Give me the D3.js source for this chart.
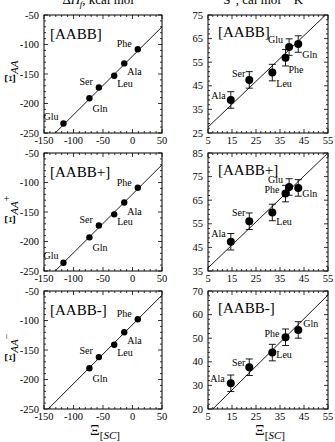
<!DOCTYPE html>
<html>
<head>
<meta charset="utf-8">
<script src="https://cdn.jsdelivr.net/npm/d3@7"></script>
<style>
  body { margin: 0; background: #fff; }
  svg { display: block; font-family: "Liberation Serif", "DejaVu Serif", serif; }
</style>
</head>
<body>
<div id="chart"></div>
<script>
// Enthalpy panels (left column): x = Xi[SC], y = Xi_AA for each basis
const hNames = ["Glu", "Gln", "Ser", "Leu", "Ala", "Phe"];
const hX = [-117, -73, -57, -31, -14, 9];
const hAABB  = [-234, -191, -173, -153, -132, -108];
const hAABBp = [-236, -193, -173, -154, -134, -109];
const hAABBm = [null, -181, -162, -141, -120, -98];
const hFit = [[-131, -250], [50, -70]];
const hFitM = [[-143, -250], [50, -57]];

// Entropy panels (right column), with error bars
const sNames = ["Ala", "Ser", "Leu", "Phe", "Glu", "Gln"];
const sX = [14.5, 22.2, 31.8, 37.3, 38.8, 42.6];
const sAABB  = [39, 47.5, 50.6, 56.9, 61.4, 62.7];
const sAABBp = [47.4, 56.1, 59.8, 67.8, 70.6, 70.2];
const sAABBm = [30.9, 37.7, 43.9, 50.4, null, 53.5];
const sErr = [3.5, 3.5, 3.5, 3.5, 3.5, 3.5];
const sFit  = [[5, 27.5], [54, 75]];
const sFitP = [[5, 36.3], [55, 85]];
const sFitM = [[7, 20], [55, 68.3]];

const tags = ["[AABB]", "[AABB+]", "[AABB-]"];
const ySup = ["", "+", "\u2212"];

// label placement (anchor, dx, dy) relative to the point
const hLab = {
  Phe: ["end", -6, -2], Ala: ["start", 3, 12], Leu: ["start", 3, 11],
  Ser: ["end", -6, -3], Gln: ["start", 3, 14], Glu: ["end", -5, -4]
};
const sLab = [
  { Ala: ["end", -5, -1], Ser: ["end", -4, -3], Leu: ["start", 4, 14],
    Phe: ["start", 3, 15], Glu: ["end", -6, -4], Gln: ["start", 4, 14] },
  { Ala: ["end", -5, -5], Ser: ["end", -4, -5], Leu: ["start", 4, 13],
    Phe: ["end", -6, -1], Glu: ["end", -6, -4], Gln: ["start", 4, 9] },
  { Ala: ["end", -6, -1], Ser: ["end", -4, -1], Leu: ["start", 4, 5],
    Phe: ["end", -6, 0], Gln: ["start", 5, -3] }
];

const W = 335, H = 442;
const svg = d3.select("#chart").append("svg").attr("width", W).attr("height", H);

const rowTop = [15, 153, 291];
const plotH = 118;
const cols = [
  { left: 44, width: 118, xDom: [-150, 50], xMaj: 50, xMin: 10, yMaj: 50, yMin: 10,
    yDoms: [[-250, -50], [-250, -50], [-250, -50]],
    names: hNames, xs: hX, ys: [hAABB, hAABBp, hAABBm], fits: [hFit, hFit, hFitM],
    r: 3.2, err: null },
  { left: 208, width: 120, xDom: [5, 55], xMaj: 10, xMin: 2, yMaj: 10, yMin: 2,
    yDoms: [[25, 75], [35, 85], [20, 70]],
    names: sNames, xs: sX, ys: [sAABB, sAABBp, sAABBm], fits: [sFit, sFitP, sFitM],
    r: 4, err: sErr }
];

function range(a, b, step) {
  const out = [];
  for (let v = a; v <= b + 1e-9; v += step) out.push(+v.toFixed(6));
  return out;
}

cols.forEach((c, ci) => {
  rowTop.forEach((top, ri) => {
    const g = svg.append("g").attr("transform", `translate(${c.left},${top})`);
    const x = d3.scaleLinear().domain(c.xDom).range([0, c.width]);
    const y = d3.scaleLinear().domain(c.yDoms[ri]).range([plotH, 0]);

    // ticks on all four sides, pointing inward
    const minorX = range(c.xDom[0], c.xDom[1], c.xMin);
    const minorY = range(c.yDoms[ri][0], c.yDoms[ri][1], c.yMin);
    const isMaj = (v, step, start) => Math.abs(((v - start) / step) - Math.round((v - start) / step)) < 1e-6;
    const tk = g.append("g").attr("stroke", "#000").attr("stroke-width", 0.8);
    minorX.forEach(v => {
      const L = isMaj(v, c.xMaj, c.xDom[0]) ? 4 : 2;
      tk.append("line").attr("x1", x(v)).attr("x2", x(v)).attr("y1", plotH).attr("y2", plotH - L);
      tk.append("line").attr("x1", x(v)).attr("x2", x(v)).attr("y1", 0).attr("y2", L);
    });
    minorY.forEach(v => {
      const L = isMaj(v, c.yMaj, c.yDoms[ri][0]) ? 4 : 2;
      tk.append("line").attr("x1", 0).attr("x2", L).attr("y1", y(v)).attr("y2", y(v));
      tk.append("line").attr("x1", c.width).attr("x2", c.width - L).attr("y1", y(v)).attr("y2", y(v));
    });

    g.append("rect").attr("width", c.width).attr("height", plotH)
      .attr("fill", "none").attr("stroke", "#000").attr("stroke-width", 1);

    // tick labels
    range(c.xDom[0], c.xDom[1], c.xMaj).forEach(v => {
      g.append("text").attr("x", x(v)).attr("y", plotH + 11)
        .attr("text-anchor", "middle").attr("font-size", 10.5).text(v);
    });
    range(c.yDoms[ri][0], c.yDoms[ri][1], c.yMaj).forEach(v => {
      g.append("text").attr("x", -5).attr("y", y(v) + 3.5)
        .attr("text-anchor", "end").attr("font-size", 10.5).text(v);
    });

    // fit line, clipped to the frame
    const clipId = `clip${ci}${ri}`;
    g.append("clipPath").attr("id", clipId).append("rect").attr("width", c.width).attr("height", plotH);
    g.append("line").attr("clip-path", `url(#${clipId})`)
      .attr("x1", x(c.fits[ri][0][0])).attr("y1", y(c.fits[ri][0][1]))
      .attr("x2", x(c.fits[ri][1][0])).attr("y2", y(c.fits[ri][1][1]))
      .attr("stroke", "#000").attr("stroke-width", 0.9);

    // points
    const pts = c.names.map((n, i) => ({ name: n, x: c.xs[i], y: c.ys[ri][i], e: c.err ? c.err[i] : 0 }))
      .filter(d => d.y != null);

    if (c.err) {
      const eb = g.append("g").attr("stroke", "#000").attr("stroke-width", 0.9);
      pts.forEach(d => {
        const px = x(d.x);
        eb.append("line").attr("x1", px).attr("x2", px).attr("y1", y(d.y - d.e)).attr("y2", y(d.y + d.e));
        [d.y - d.e, d.y + d.e].forEach(v => {
          eb.append("line").attr("x1", px - 3.5).attr("x2", px + 3.5).attr("y1", y(v)).attr("y2", y(v));
        });
      });
    }

    g.selectAll("circle.pt").data(pts).enter().append("circle").attr("class", "pt")
      .attr("cx", d => x(d.x)).attr("cy", d => y(d.y)).attr("r", c.r).attr("fill", "#000");

    const lab = ci === 0 ? hLab : sLab[ri];
    g.selectAll("text.lab").data(pts).enter().append("text").attr("class", "lab")
      .attr("x", d => x(d.x) + lab[d.name][1]).attr("y", d => y(d.y) + lab[d.name][2])
      .attr("text-anchor", d => lab[d.name][0]).attr("font-size", 10).text(d => d.name);

    // basis tag
    g.append("text").attr("x", ci === 0 ? 6 : 10).attr("y", ci === 0 ? 24 : 22)
      .attr("font-size", 15).text(tags[ri]);

    // y-axis label (left column only)
    if (ci === 0) {
      const t = svg.append("text")
        .attr("transform", `translate(15,${top + plotH / 2 - 2}) rotate(-90)`)
        .attr("text-anchor", "middle").attr("font-size", 15);
      t.append("tspan").text("\u039E");
      t.append("tspan").attr("font-style", "italic").attr("font-size", 11).attr("dy", 3).text("AA");
      if (ySup[ri]) t.append("tspan").attr("font-size", 10).attr("dy", -8).text(ySup[ri]);
    }
  });

  // column titles and x labels
  const cx = c.left + c.width / 2;
  const title = svg.append("text").attr("x", cx).attr("y", 4).attr("text-anchor", "middle").attr("font-size", 13);
  if (ci === 0) {
    title.append("tspan").text("\u0394");
    title.append("tspan").attr("font-style", "italic").text("H");
    title.append("tspan").attr("font-size", 9).attr("dy", -5).text("\u00B0");
    title.append("tspan").attr("font-size", 9).attr("font-style", "italic").attr("dx", -4).attr("dy", 8).text("f");
    title.append("tspan").attr("dy", -3).text(", kcal mol");
    title.append("tspan").attr("font-size", 9).attr("dy", -5).text("\u22121");
  } else {
    title.append("tspan").text("S\u00B0, cal mol");
    title.append("tspan").attr("font-size", 9).attr("dy", -5).text("\u22121");
    title.append("tspan").attr("dy", 5).text(" K");
    title.append("tspan").attr("font-size", 9).attr("dy", -5).text("\u22121");
  }

  const xl = svg.append("text").attr("x", cx + 2).attr("y", 435).attr("text-anchor", "middle").attr("font-size", 15);
  xl.append("tspan").text("\u039E");
  xl.append("tspan").attr("font-size", 11).attr("dy", 4).text("[");
  xl.append("tspan").attr("font-size", 11).attr("font-style", "italic").text("SC");
  xl.append("tspan").attr("font-size", 11).text("]");
});
</script>
</body>
</html>
